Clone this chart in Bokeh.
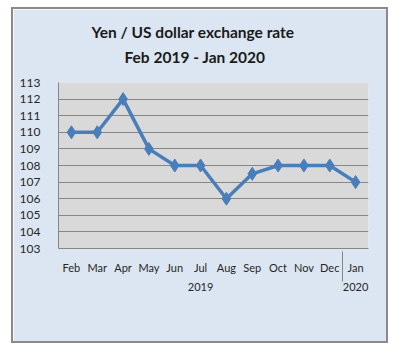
from bokeh.plotting import figure
from bokeh.models import FactorRange, Range1d, FixedTicker, Title
from bokeh.embed import file_html
from bokeh.resources import INLINE

years = ["2019"] * 11 + ["2020"]
months = ["Feb", "Mar", "Apr", "May", "Jun", "Jul", "Aug", "Sep", "Oct", "Nov", "Dec", "Jan"]
rates = [110, 110, 112, 109, 108, 108, 106, 107.5, 108, 108, 108, 107]
y_ticks = list(range(103, 114))

factors = list(zip(years, months))

FONT = "Lato"

p = figure(
    frame_width=310, frame_height=166,
    x_range=FactorRange(factors=factors, factor_padding=0, group_padding=0, range_padding=0),
    y_range=Range1d(103, 113),
    output_backend="svg", toolbar_location=None,
    min_border_left=45, min_border_right=18, min_border_bottom=93, min_border_top=73,
)

# spacer between frame and titles
p.add_layout(Title(text=" ", text_font_size="8px", standoff=0), "above")
p.add_layout(Title(text="Feb 2019  - Jan 2020", align="left", offset=66, text_font=FONT,
                   text_font_size="15.5px", text_font_style="bold", text_color="#1a1a1a",
                   standoff=11), "above")
p.add_layout(Title(text="Yen / US dollar exchange rate", align="left", offset=33, text_font=FONT,
                   text_font_size="15.5px", text_font_style="bold", text_color="#1a1a1a",
                   standoff=0), "above")

p.background_fill_color = "#D9D9D9"
p.border_fill_color = "#DCE6F2"
p.outline_line_color = None
p.styles = {"border": "2px solid #8a8a8a", "margin-left": "11px", "margin-top": "7px"}

p.line(x=factors, y=rates, line_color="#4A7EBB", line_width=3.5)
p.scatter(x=factors, y=rates, marker="diamond", size=13, fill_color="#4A7EBB", line_color="#4A7EBB")

p.xgrid.grid_line_color = None
p.ygrid.grid_line_color = "#868686"
p.ygrid.grid_line_width = 1

p.yaxis.ticker = FixedTicker(ticks=y_ticks)
p.yaxis.major_tick_line_color = None
p.yaxis.minor_tick_line_color = None
p.yaxis.axis_line_color = "#868686"
p.yaxis.major_label_text_font = FONT
p.yaxis.major_label_text_font_size = "12px"
p.yaxis.major_label_text_color = "#262626"
p.yaxis.major_label_standoff = 12

p.xaxis.axis_line_color = "#868686"
p.xaxis.major_tick_line_color = None
p.xaxis.minor_tick_line_color = None
p.xaxis.major_label_text_font = FONT
p.xaxis.major_label_text_font_size = "11px"
p.xaxis.major_label_text_color = "#262626"
p.xaxis.group_text_font = FONT
p.xaxis.group_text_font_size = "11px"
p.xaxis.group_text_font_style = "normal"
p.xaxis.group_text_color = "#262626"
p.xaxis.separator_line_color = "#868686"
p.xaxis.separator_line_width = 1
p.xaxis.major_label_standoff = 6

open("out.html", "w").write(file_html(p, INLINE))
